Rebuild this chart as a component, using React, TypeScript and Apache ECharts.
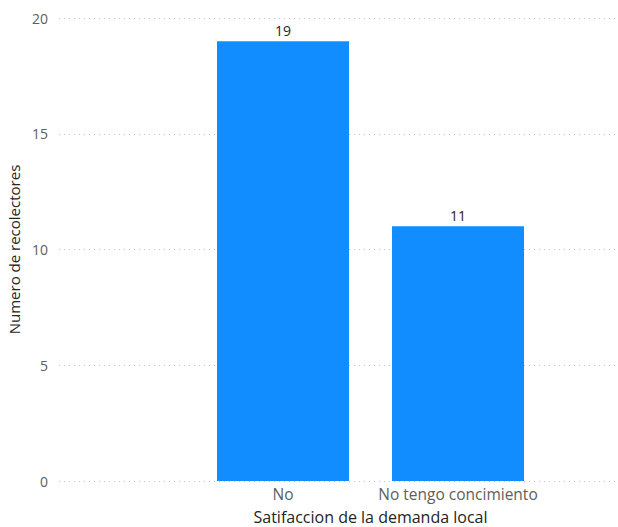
import React, { useEffect, useRef } from "react";
import * as echarts from "echarts";

const categories = ["No", "No tengo concimiento"];
const values = [19, 11];
const yTicks = { min: 0, max: 20, interval: 5 };
const xTitle = "Satifaccion de la demanda local";
const yTitle = "Numero de recolectores";

const FONT = "'Segoe UI', 'Open Sans', 'Noto Sans', sans-serif";

export default function App() {
  const ref = useRef<HTMLDivElement>(null);
  useEffect(() => {
    document.body.style.margin = "0";
    if (!ref.current) return;
    const chart = echarts.init(ref.current, null, { renderer: "svg" });
    chart.setOption({
      animation: false,
      textStyle: { fontFamily: FONT },
      grid: [
        { left: 59, right: 3, top: 18, height: 463, outerBoundsMode: "none", containLabel: false },
        { left: 195.5, right: 72.5, top: 18, height: 463, outerBoundsMode: "none", containLabel: false },
      ],
      xAxis: [
        { gridIndex: 0, type: "value", show: false, min: 0, max: 1 },
        {
          gridIndex: 1,
          type: "category",
          data: categories,
          axisLine: { show: false },
          axisTick: { show: false },
          axisLabel: { color: "#605E5C", fontSize: 15.5, margin: 5, interval: 0, fontFamily: FONT },
          name: xTitle,
          nameLocation: "middle",
          nameGap: 27,
          nameTextStyle: { color: "#252423", fontSize: 16, lineHeight: 17, fontFamily: FONT },
        },
      ],
      yAxis: [
        {
          gridIndex: 0,
          type: "value",
          min: yTicks.min,
          max: yTicks.max,
          interval: yTicks.interval,
          axisLine: { show: false },
          axisTick: { show: false },
          axisLabel: { color: "#605E5C", fontSize: 14, margin: 11, fontFamily: FONT },
          splitLine: { show: true, lineStyle: { color: "#C8C6C4", type: [1, 4], width: 1 } },
          name: yTitle,
          nameLocation: "middle",
          nameGap: 38,
          nameTextStyle: { color: "#252423", fontSize: 15, fontFamily: FONT },
        },
        {
          gridIndex: 1,
          type: "value",
          min: yTicks.min,
          max: yTicks.max,
          interval: yTicks.interval,
          show: false,
          splitLine: { show: false },
        },
      ],
      series: [
        {
          type: "bar",
          xAxisIndex: 1,
          yAxisIndex: 1,
          data: values,
          barWidth: 132,
          itemStyle: { color: "#118DFF" },
          label: {
            show: true,
            position: "top",
            distance: 4,
            color: "#252423",
            fontSize: 14,
            fontFamily: FONT,
          },
        },
      ],
    });
    return () => chart.dispose();
  }, []);
  return <div ref={ref} style={{ width: 618, height: 527 }} />;
}
